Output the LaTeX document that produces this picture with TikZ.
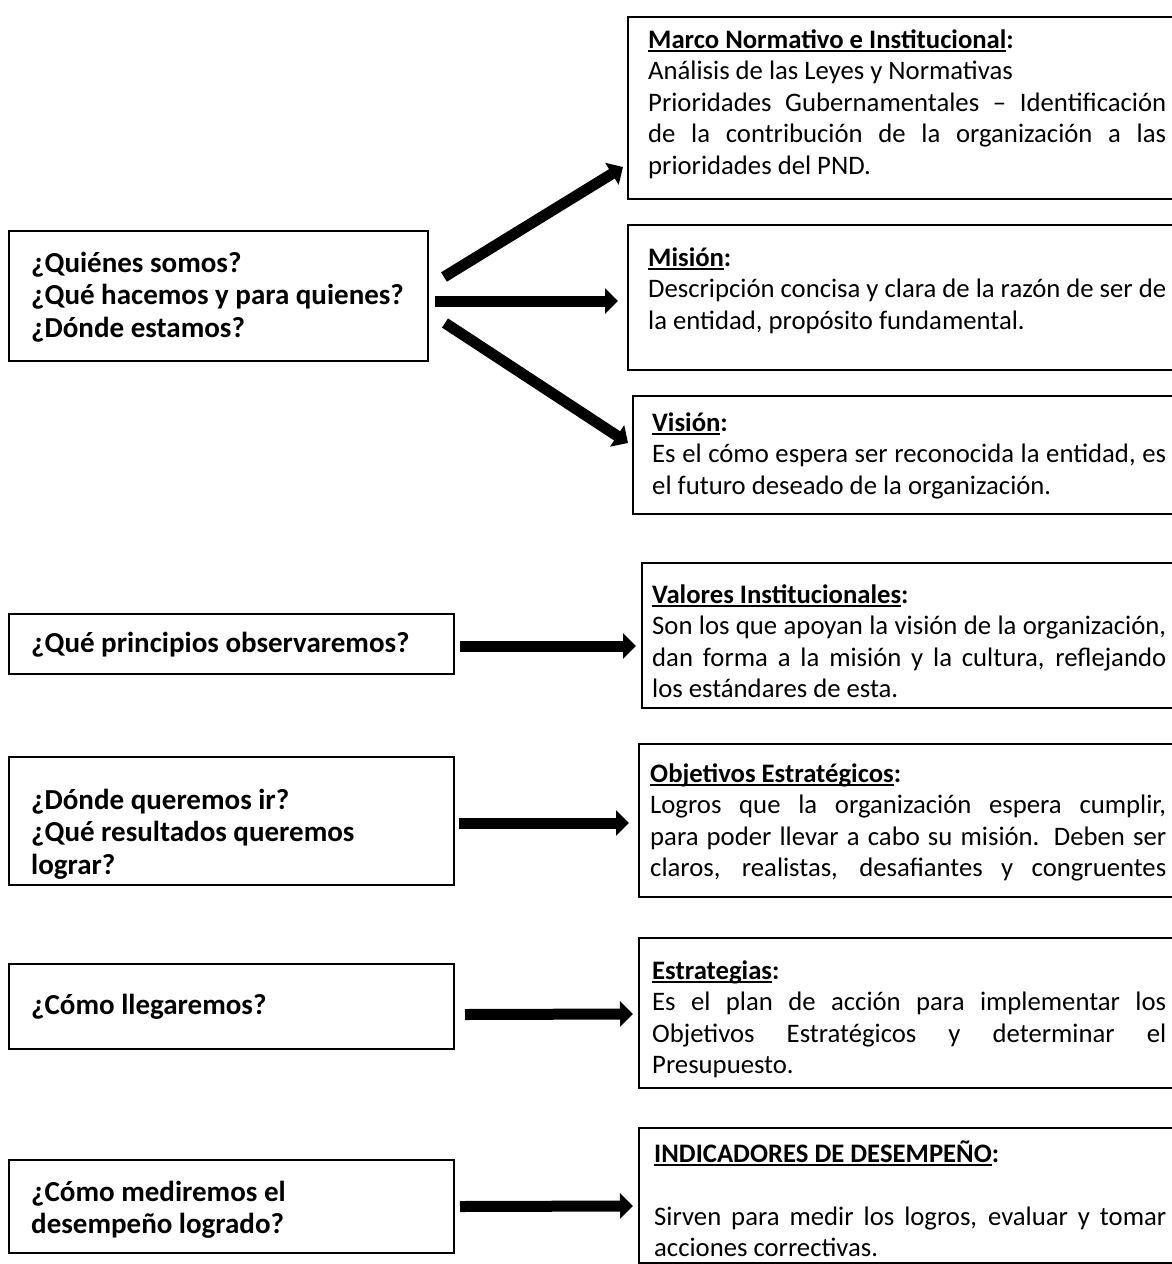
\documentclass[tikz,border=0pt]{standalone}
\usepackage{fontspec}
\setmainfont{Carlito}
\usetikzlibrary{arrows.meta,calc}

% justified line of a given width
\newcommand{\jline}[2]{\makebox[#1][s]{#2}}
% bold heading with a thick underline (the colon stays outside)
\newsavebox{\hdrbox}
\newcommand{\hdr}[1]{\sbox{\hdrbox}{\bfseries #1}\rlap{\rule[-3.5pt]{\wd\hdrbox}{1.6pt}}\usebox{\hdrbox}}
\newcommand{\qfont}{\fontsize{29}{32.5}\selectfont\bfseries}
\newcommand{\tfont}{\fontsize{26.7}{31.5}\selectfont}
\newcommand{\qstrut}{\rule{0pt}{23pt}}
\newcommand{\tstrut}{\rule{0pt}{22pt}}

\begin{document}
\begin{tikzpicture}[x=1pt,y=-1pt,
  frame/.style={draw=black,line width=2pt,fill=white,anchor=north west,inner sep=0pt},
  qtext/.style={anchor=north west,inner sep=0pt,align=left,font=\qfont},
  ttext/.style={anchor=north west,inner sep=0pt,align=left,font=\tfont},
  arr/.style={line width=11pt,-{Triangle[length=13pt,width=25pt]}}
]
\useasboundingbox (0,0) rectangle (1172,1264);
\clip (0,0) rectangle (1172,1264);

% question boxes (left column)
\node[frame,minimum width=419pt,minimum height=130pt] (q1) at (8,230) {};
\node[frame,minimum width=445pt,minimum height=60pt]  (q2) at (8,613) {};
\node[frame,minimum width=445pt,minimum height=128pt] (q3) at (8,756) {};
\node[frame,minimum width=445pt,minimum height=85pt]  (q4) at (8,963) {};
\node[frame,minimum width=445pt,minimum height=93pt]  (q5) at (8,1159) {};

\node[qtext] (q1t) at (31,249) {\qstrut ¿Quiénes somos?\\¿Qué hacemos y para quienes?\\¿Dónde estamos?};
\node[qtext] (q2t) at (31,629) {\qstrut ¿Qué principios observaremos?};
\node[qtext] (q3t) at (31,786) {\qstrut ¿Dónde queremos ir?\\¿Qué resultados queremos\\lograr?};
\node[qtext] (q4t) at (31,991) {\qstrut ¿Cómo llegaremos?};
\node[qtext] (q5t) at (31,1178) {\qstrut ¿Cómo mediremos el\\desempeño logrado?};

% description boxes (right column, running past the right edge)
\node[frame,minimum width=563pt,minimum height=182pt] (marco)  at (627,16) {};
\node[frame,minimum width=563pt,minimum height=145pt] (mision) at (627,224) {};
\node[frame,minimum width=558pt,minimum height=118pt] (vision) at (632,395) {};
\node[frame,minimum width=549pt,minimum height=145pt] (valores) at (641,562) {};
\node[frame,minimum width=552pt,minimum height=153pt] (objetivos) at (638,743) {};
\node[frame,minimum width=552pt,minimum height=150pt] (estrategias) at (638,937) {};
\node[frame,minimum width=552pt,minimum height=135pt] (indicadores) at (638,1127) {};

\node[ttext] (marcot) at (648,26) {\tstrut\hdr{Marco Normativo e Institucional}\textbf{:}\\
  Análisis de las Leyes y Normativas\\
  \jline{518pt}{Prioridades Gubernamentales – Identificación}\\
  \jline{518pt}{de la contribución de la organización a las}\\
  prioridades del PND.};
\node[ttext] (misiont) at (648,244) {\tstrut\hdr{Misión}\textbf{:}\\
  \jline{518pt}{Descripción concisa y clara de la razón de ser de}\\
  la entidad, propósito fundamental.};
\node[ttext] (visiont) at (652,409) {\tstrut\hdr{Visión}\textbf{:}\\
  \jline{514pt}{Es el cómo espera ser reconocida la entidad, es}\\
  el futuro deseado de la organización.};
\node[ttext] (valorest) at (652,581) {\tstrut\hdr{Valores Institucionales}\textbf{:}\\
  \jline{514pt}{Son los que apoyan la visión de la organización,}\\
  \jline{514pt}{dan forma a la misión y la cultura, reflejando}\\
  los estándares de esta.};
\node[ttext] (objetivost) at (650,760) {\tstrut\hdr{Objetivos Estratégicos}\textbf{:}\\
  \jline{516pt}{Logros que la organización espera cumplir,}\\
  \jline{516pt}{para poder llevar a cabo su misión. Deben ser}\\
  \jline{516pt}{claros, realistas, desafiantes y congruentes}};
\node[ttext] (estrategiast) at (652,957) {\tstrut\hdr{Estrategias}\textbf{:}\\
  \jline{514pt}{Es el plan de acción para implementar los}\\
  \jline{514pt}{Objetivos Estratégicos y determinar el}\\
  Presupuesto.};
\node[ttext] (indicadorest) at (654,1140) {\tstrut\hdr{INDICADORES DE DESEMPEÑO}\textbf{:}\\
  \mbox{}\\
  \jline{512pt}{Sirven para medir los logros, evaluar y tomar}\\
  acciones correctivas.};

% block arrows
\draw[arr] ($(q1.east)+(15,-19)$) -- ($(marco.south west)+(-4,-33)$);
\draw[arr] ($(q1.east)+(6,5)$) -- ($(mision.west)+(-9,3.5)$);
\draw[arr] ($(q1.east)+(16,27)$) -- ($(vision.north west)+(-4,48)$);
\draw[arr] ($(q2.east)+(5,2)$) -- ($(valores.west)+(-5,10.5)$);
\draw[arr] ($(q3.east)+(4,2)$) -- ($(objetivos.west)+(-9,2.5)$);
\draw[arr] ($(q4.east)+(10,8)$) -- ($(estrategias.west)+(-5,1)$);
\draw[arr] ($(q5.east)+(5,0)$) -- ($(indicadores.west)+(-5,10.5)$);
\end{tikzpicture}
\end{document}
